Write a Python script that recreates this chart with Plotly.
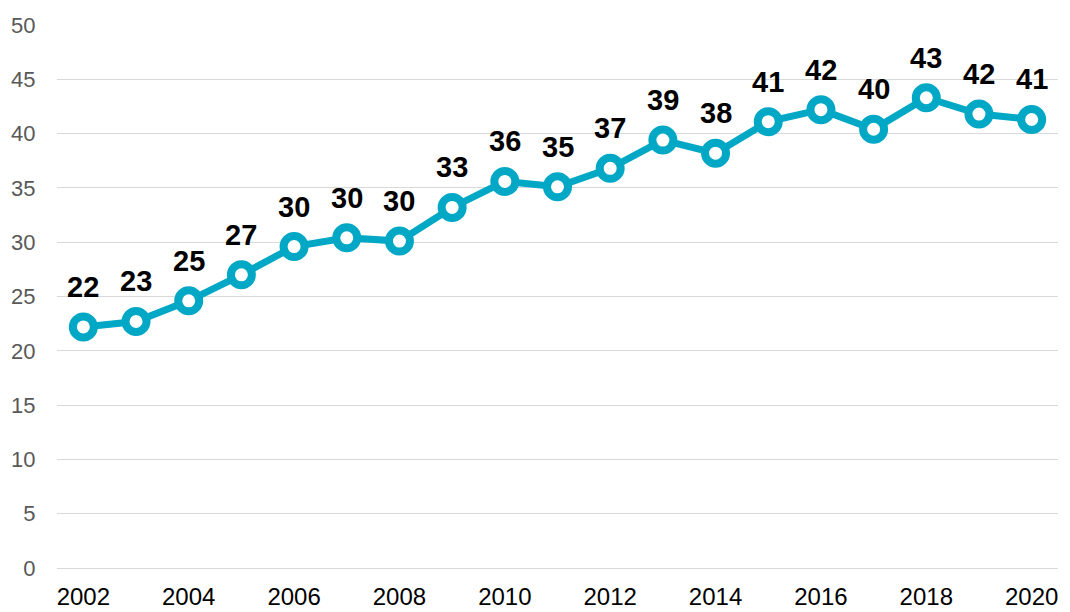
import plotly.graph_objects as go

# Annual series, 2002-2020
years = list(range(2002, 2021))
values = [22.2, 22.7, 24.6, 27.0, 29.6, 30.4, 30.1, 33.2, 35.6, 35.1,
          36.8, 39.4, 38.2, 41.1, 42.2, 40.4, 43.3, 41.8, 41.3]
labels = [f"{round(v):d}" for v in values]

y_ticks = list(range(0, 51, 5))
x_ticks = list(range(2002, 2021, 2))

teal = "#00A8C5"

fig = go.Figure(
    go.Scatter(
        x=years,
        y=values,
        mode="lines+markers",
        line=dict(color=teal, width=7),
        marker=dict(size=21, color="#ffffff", line=dict(color=teal, width=8)),
        cliponaxis=False,
        hoverinfo="x+y",
    )
)

# value labels above each point
for x, y, t in zip(years, values, labels):
    fig.add_annotation(
        x=x, y=y, text=t,
        showarrow=False,
        xanchor="center", yanchor="bottom",
        yshift=22,
        font=dict(family="Liberation Sans, Arial", size=29, color="#000000", weight="bold"),
    )

fig.update_layout(
    width=1070,
    height=612,
    margin=dict(l=57, r=12, t=25, b=44),
    paper_bgcolor="#ffffff",
    plot_bgcolor="#ffffff",
    showlegend=False,
    font=dict(family="Liberation Sans, Arial"),
)

fig.update_xaxes(
    range=[2001.5, 2020.5],
    tickmode="array",
    tickvals=x_ticks,
    ticktext=[str(t) for t in x_ticks],
    tickfont=dict(size=24, color="#000000"),
    showgrid=False,
    zeroline=False,
    showline=False,
    ticks="outside",
    ticklen=7,
    tickcolor="rgba(0,0,0,0)",
    automargin=False,
)

fig.update_yaxes(
    range=[0, 50],
    tickmode="array",
    tickvals=y_ticks,
    ticktext=[str(t) for t in y_ticks],
    tickfont=dict(size=22, color="#595959"),
    showgrid=True,
    gridcolor="#d9d9d9",
    gridwidth=1,
    zeroline=True,
    zerolinecolor="#d9d9d9",
    zerolinewidth=1,
    showline=False,
    ticks="outside",
    ticklen=16,
    tickcolor="rgba(0,0,0,0)",
    automargin=False,
)

fig.write_html("out.html")
